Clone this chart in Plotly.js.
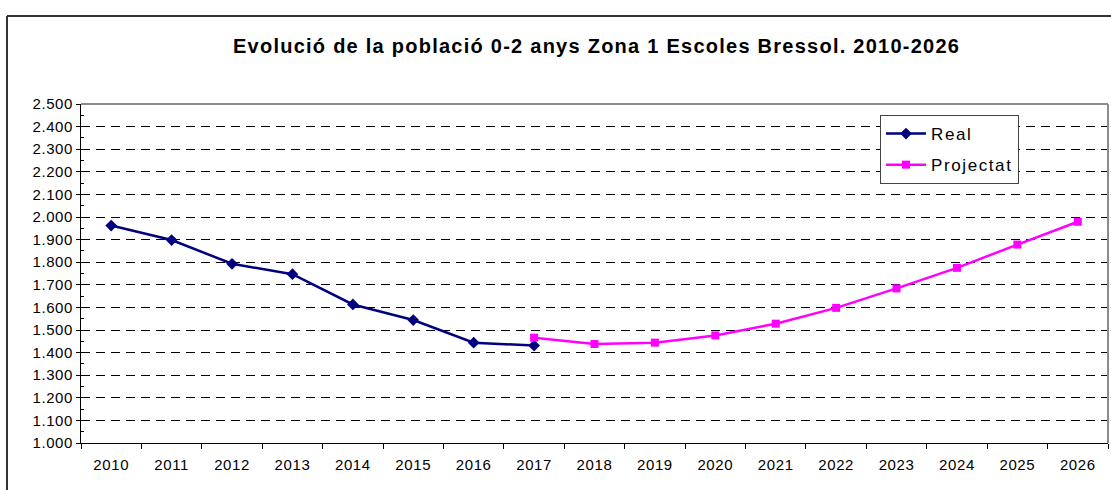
<!DOCTYPE html>
<html>
<head>
<meta charset="utf-8">
<script src="https://cdn.plot.ly/plotly-3.0.1.min.js"></script>
<style>
html,body{margin:0;padding:0;background:#fff;}
#chart{width:1111px;height:490px;}
.gtitle{letter-spacing:1.25px;}
.legendtext{letter-spacing:1.6px;}
.xtick text,.ytick text{letter-spacing:0.6px;}
</style>
</head>
<body>
<div id="chart"></div>
<script>
const years = ["2010","2011","2012","2013","2014","2015","2016","2017","2018","2019","2020","2021","2022","2023","2024","2025","2026"];
const realYears = ["2010","2011","2012","2013","2014","2015","2016","2017"];
const realValues = [1962, 1898, 1793, 1747, 1613, 1544, 1444, 1431];
const projYears = ["2017","2018","2019","2020","2021","2022","2023","2024","2025","2026"];
const projValues = [1466, 1438, 1444, 1476, 1528, 1598, 1684, 1775, 1878, 1979];
const titleText = "Evolució de la població 0-2 anys Zona 1 Escoles Bressol. 2010-2026";

const W = 1111, H = 490;
const L = 81, R = 1108, T = 104, B = 443;
const px = v => (v - L) / (R - L);
const py = v => (B - v) / (B - T);
const font = "Liberation Sans, Arial, sans-serif";

const traces = [
  {x: realYears, y: realValues, name: "Real", legendgroup: "a", type: "scatter", mode: "lines+markers",
   line: {color: "#000080", width: 2.5}, marker: {symbol: "diamond", size: 9, color: "#000080"}},
  {x: projYears, y: projValues, name: "Projectat", legendgroup: "b", type: "scatter", mode: "lines+markers",
   line: {color: "#FF00FF", width: 2.5}, marker: {symbol: "square", size: 8, color: "#FF00FF"}},
  {x: years, y: years.map(() => null), yaxis: "y2", showlegend: false, hoverinfo: "skip", type: "scatter"}
];

const layout = {
  width: W, height: H,
  margin: {l: L, r: W - R, t: T, b: H - B, pad: 0},
  paper_bgcolor: "#fff", plot_bgcolor: "#fff",
  separators: ",.",
  font: {family: font, size: 15, color: "#000"},
  title: {text: titleText, font: {family: font, size: 20, weight: "bold", color: "#000"},
          x: 0.537, xanchor: "center", xref: "container", y: 1 - 46 / H, yanchor: "middle", yref: "container"},
  xaxis: {type: "category", categoryarray: years, categoryorder: "array", range: [-0.5, 16.5],
          tickson: "boundaries", ticks: "outside", ticklen: 5, tickcolor: "#000", tickwidth: 1,
          showline: true, linecolor: "#000", linewidth: 1, showgrid: false, zeroline: false,
          ticklabelstandoff: 8,
          tickfont: {family: font, size: 15}, fixedrange: true},
  yaxis: {range: [1000, 2500], dtick: 100, tick0: 1000, tickformat: ",d",
          ticks: "outside", ticklen: 4, tickcolor: "#000", tickwidth: 1,
          showline: true, linecolor: "#000", linewidth: 1,
          showgrid: true, gridcolor: "#000", gridwidth: 1, griddash: "9px,6px",
          zeroline: false, tickfont: {family: font, size: 15},
          minor: {dtick: 50, tick0: 1000, ticks: "inside", ticklen: 3, tickcolor: "#000", showgrid: false},
          fixedrange: true},
  yaxis2: {overlaying: "y", side: "left", range: [1000, 2500], dtick: 100, tick0: 1000,
           ticks: "inside", ticklen: 4, tickcolor: "#000", showticklabels: false,
           showgrid: false, zeroline: false, showline: false, fixedrange: true},
  legend: {x: px(880), y: py(115), xanchor: "left", yanchor: "top",
           bgcolor: "#fff", bordercolor: "#444", borderwidth: 1,
           font: {family: font, size: 17}, tracegroupgap: 6, itemwidth: 40, traceorder: "grouped"},
  shapes: [
    {type: "line", xref: "paper", yref: "paper", x0: 0, x1: 1, y0: 1, y1: 1, line: {color: "#8c8c8c", width: 2}, layer: "above"},
    {type: "line", xref: "paper", yref: "paper", x0: 1, x1: 1, y0: 0, y1: 1, line: {color: "#8c8c8c", width: 2}, layer: "above"},
    {type: "line", xref: "paper", yref: "paper", x0: px(7), x1: px(1111), y0: py(16), y1: py(16), line: {color: "#333", width: 2}},
    {type: "line", xref: "paper", yref: "paper", x0: px(7), x1: px(7), y0: py(16), y1: py(490), line: {color: "#333", width: 2}}
  ],
  showlegend: true
};

Plotly.newPlot("chart", traces, layout, {displayModeBar: false, staticPlot: true});
</script>
</body>
</html>
